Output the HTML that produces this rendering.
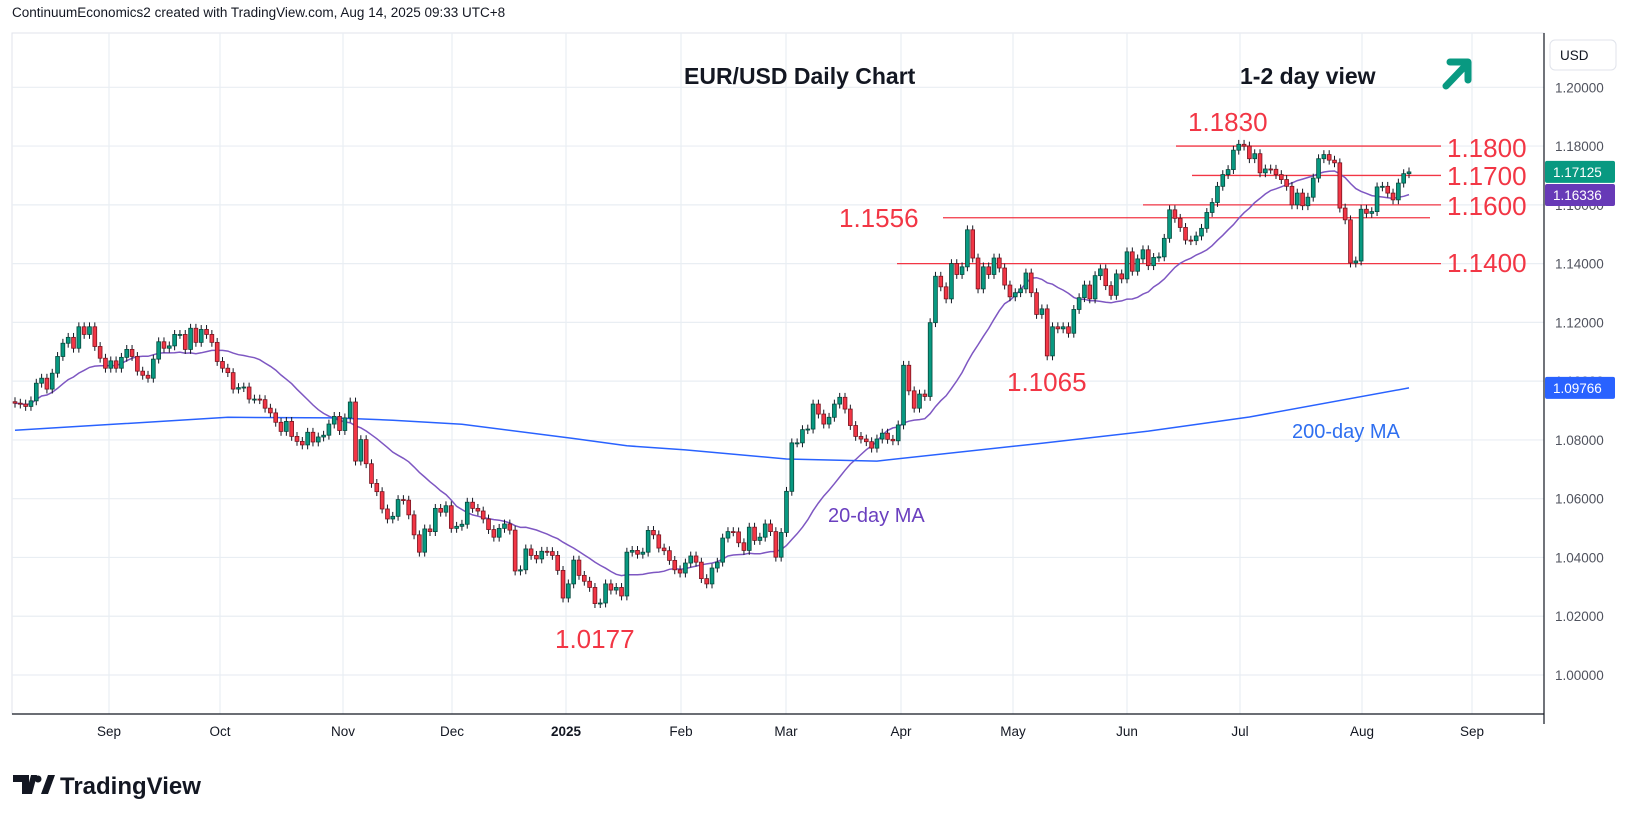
<!DOCTYPE html>
<html><head><meta charset="utf-8">
<style>
html,body{margin:0;padding:0;background:#fff;}
body{width:1634px;height:824px;overflow:hidden;position:relative;font-family:"Liberation Sans",sans-serif;}
svg{position:absolute;left:0;top:0;}
</style></head>
<body>
<svg id="chart" width="1634" height="824" xmlns="http://www.w3.org/2000/svg">
<text x="12" y="17" font-size="13.5" fill="#131722" font-family="Liberation Sans, sans-serif">ContinuumEconomics2 created with TradingView.com, Aug 14, 2025 09:33 UTC+8</text>
<g id="grid"></g>
<g id="levels"></g>
<g id="mas"></g>
<g id="candles"></g>
<g id="axis"></g>
<g id="xaxis"></g>
<text x="684" y="84" font-size="23" fill="#131722" font-weight="bold" font-family="Liberation Sans, sans-serif">EUR/USD Daily Chart</text>
<text x="1240" y="84" font-size="23" fill="#131722" font-weight="bold" font-family="Liberation Sans, sans-serif">1-2 day view</text>
<g stroke="#089981" stroke-width="7" fill="none" stroke-linecap="round" stroke-linejoin="round">
<line x1="1446" y1="86" x2="1467" y2="64"/><polyline points="1450,62 1468,62 1468,80"/></g>
<g font-family="Liberation Sans, sans-serif" font-size="26" fill="#f23645">
<text x="1188" y="131">1.1830</text>
<text x="1447" y="157">1.1800</text>
<text x="1447" y="185">1.1700</text>
<text x="1447" y="215">1.1600</text>
<text x="1447" y="272">1.1400</text>
<text x="839" y="227">1.1556</text>
<text x="1007" y="391">1.1065</text>
<text x="555" y="648">1.0177</text>
</g>
<text x="828" y="522" font-size="20" fill="#6a3fbf" font-family="Liberation Sans, sans-serif">20-day MA</text>
<text x="1292" y="438" font-size="20" fill="#2f6ff0" font-family="Liberation Sans, sans-serif">200-day MA</text>
<g>
<path d="M13 775h16v19h-7v-12h-9z M31 775h6l-5 19h-6z" fill="#131722"/>
<circle cx="38" cy="779" r="3.5" fill="#131722"/>
<path d="M41 794l7-19h7l-7 19z" fill="#131722"/>
<text x="60" y="794" font-size="24" font-weight="bold" fill="#131722" font-family="Liberation Sans, sans-serif">TradingView</text>
</g>
</svg>
<script>
const closes=[1.0925,1.0922,1.0914,1.0933,1.0993,1.1010,1.0973,1.1027,1.1084,1.1129,1.1149,1.1112,1.1185,1.1159,1.1185,1.1118,1.1078,1.1044,1.1069,1.1044,1.1081,1.1108,1.1084,1.1034,1.1020,1.1010,1.1075,1.1134,1.1112,1.1120,1.1159,1.1159,1.1108,1.1180,1.1132,1.1176,1.1159,1.1132,1.1067,1.1044,1.1029,1.0973,1.0978,1.0980,1.0939,1.0939,1.0937,1.0908,1.0892,1.0860,1.0829,1.0863,1.0812,1.0795,1.0783,1.0826,1.0793,1.0810,1.0816,1.0854,1.0880,1.0832,1.0875,1.0929,1.0728,1.0801,1.0719,1.0652,1.0624,
1.0565,1.0531,1.0540,1.0597,1.0595,1.0545,1.0477,1.0418,1.0497,1.0488,1.0567,1.0554,1.0576,1.0499,1.0506,1.0513,1.0588,1.0567,1.0558,1.0531,1.0495,1.0469,1.0499,1.0514,1.0493,1.0354,1.0358,1.0429,1.0407,1.0395,1.0421,1.0420,1.0407,1.0356,1.0262,1.0310,1.0391,1.0339,1.0319,1.0298,1.0243,1.0245,1.0310,1.0289,1.0298,1.0269,1.0418,1.0424,1.0411,1.0418,1.0492,1.0477,1.0432,1.0423,1.0390,1.0358,1.0347,1.0381,1.0405,1.0384,1.0328,1.0310,1.0364,1.0384,1.0466,1.0488,1.0487,1.0450,1.0424,1.0503,1.0458,1.0469,1.0514,1.0488,1.0401,
1.0485,1.0625,
1.0790,1.0790,1.0835,1.0837,1.0922,1.0888,1.0854,1.0877,1.0922,1.0945,1.0905,1.0849,1.0812,1.0803,1.0794,1.0772,1.0803,1.0823,1.0802,1.0797,1.0851,1.1054,1.0967,1.0908,1.0956,1.0948,1.1199,1.1357,1.1321,1.1280,1.1400,1.1363,1.1389,1.1515,1.1419,1.1314,1.1389,1.1363,1.1419,1.1385,1.1327,1.1287,1.1301,1.1314,1.1368,1.1301,1.1227,1.1246,1.1086,1.1185,1.1178,1.1185,1.1163,1.1244,1.1284,1.1327,1.1280,1.1359,1.1382,1.1325,1.1292,1.1365,1.1348,1.1440,1.1374,1.1416,1.1447,1.1393,
1.1421,1.1423,1.1486,1.1583,1.1554,1.1523,1.1480,1.1478,1.1494,1.1520,1.1574,1.1608,1.1663,1.1703,1.1720,1.1786,1.1806,1.1800,1.1757,1.1774,1.1709,1.1722,1.1721,1.1703,1.1686,1.1663,1.1600,1.1640,1.1597,1.1626,1.1691,1.1757,1.1771,1.1752,1.1743,1.1589,1.1549,1.1402,1.1409,1.1585,1.1571,1.1577,1.1661,1.1663,1.1640,1.1617,1.1674,1.1706,1.1712];
const firstOpen=1.0930;
const ma200Bars=[0,20,40,60,71,84,105,115,126,145,162,193,213,232,262];
const ma200Vals=[1.0833,1.0855,1.0877,1.0875,1.0867,1.0853,1.0805,1.0780,1.0766,1.0735,1.0728,1.0789,1.0830,1.0878,1.0977];
const priceTicks=[1.20,1.18,1.16,1.14,1.12,1.10,1.08,1.06,1.04,1.02,1.00];
const tickLabels=["1.20000","1.18000","1.16000","1.14000","1.12000","1.10000","1.08000","1.06000","1.04000","1.02000","1.00000"];
const monthLabels=["Sep","Oct","Nov","Dec","2025","Feb","Mar","Apr","May","Jun","Jul","Aug","Sep"];
const monthX=[109,220,343,452,566,681,786,901,1013,1127,1240,1362,1472];
const levelPrices=[1.18,1.17,1.16,1.1556,1.14];
const levelStart=[1176,1192,1143,943,897];

const NS="http://www.w3.org/2000/svg";
const PL=12,PR=1544,PT=33,PB=714;
function y(p){return 87.3+(1.20-p)*2938.5;}
const N=closes.length;
const step=(1409-15)/(N-1);
function x(i){return 15+i*step;}
function mk(tag,attrs,parent){const e=document.createElementNS(NS,tag);for(const k in attrs)e.setAttribute(k,attrs[k]);parent.appendChild(e);return e;}

const grid=document.getElementById('grid');
mk('rect',{x:PL,y:PT,width:PR-PL,height:PB-PT,fill:'none',stroke:'#e0e3eb','stroke-width':1},grid);
priceTicks.forEach((p,k)=>{const l=mk('line',{x1:PL,x2:PR,y1:y(p),y2:y(p),stroke:'#e9eef3','stroke-width':1.2},grid);

});
monthX.forEach(mx=>{const l=mk('line',{x1:mx,x2:mx,y1:PT,y2:PB,stroke:'#e9eef3','stroke-width':1.2},grid);

});

const lv=document.getElementById('levels');
levelPrices.forEach((p,k)=>{const l=mk('line',{x1:levelStart[k],x2:k==3?1430:1441,y1:y(p),y2:y(p),stroke:'#f23645','stroke-width':1.3},lv);

});

// candles
const cg=document.getElementById('candles');
const opens=closes.map((c,i)=>i==0?firstOpen:closes[i-1]);
const wick=0.0015;
for(let i=0;i<N;i++){
 const o=opens[i],c=closes[i],up=c>=o;
 const col=up?'#089981':'#f23645';
 const hi=Math.max(o,c)+wick,lo=Math.min(o,c)-wick;
 const w=mk('line',{x1:x(i),x2:x(i),y1:y(hi),y2:y(lo),stroke:'#131722','stroke-width':1},cg);
 
 
 const top=y(Math.max(o,c)),h=Math.max(1,Math.abs(y(o)-y(c)));
 const b=mk('rect',{x:x(i)-1.9,y:top,width:3.8,height:h,fill:col,stroke:up?'#05493c':'#7a1420','stroke-width':0.8},cg);
 
 
}

// MAs
const mg=document.getElementById('mas');
let pts=[];
for(let i=0;i<N;i++){const s=Math.max(0,i-19);let sum=0;for(let j=s;j<=i;j++)sum+=closes[j];pts.push(x(i).toFixed(1)+','+y(sum/(i-s+1)).toFixed(1));}
const m20=mk('polyline',{points:pts.join(' '),fill:'none',stroke:'#7e57c2','stroke-width':1.5},mg);


const p2=ma200Bars.map((b,k)=>x(b).toFixed(1)+','+y(ma200Vals[k]).toFixed(1));
const m200=mk('polyline',{points:p2.join(' '),fill:'none',stroke:'#2962ff','stroke-width':1.5},mg);



// price axis
const ax=document.getElementById('axis');
mk('line',{x1:PR,x2:PR,y1:PT,y2:PB+10,stroke:'#131722','stroke-width':1.2},ax);
mk('line',{x1:PL,x2:PR,y1:PB,y2:PB,stroke:'#131722','stroke-width':1.2},ax);
const usd=mk('rect',{x:1550,y:40,width:66,height:30,rx:5,fill:'#fff',stroke:'#e0e3eb'},ax);


const ut=mk('text',{x:1560,y:60,'font-size':13.5,fill:'#131722'},ax);ut.textContent='USD';
priceTicks.forEach((p,k)=>{const t=mk('text',{x:1555,y:y(p)+5,'font-size':13.5,fill:'#50535e'},ax);t.textContent=tickLabels[k];

});
function tag(p,col,label,name){const g=mk('g',{},ax);


mk('rect',{x:1545,y:y(p)-11,width:70,height:22,rx:2,fill:col},g);
const t=mk('text',{x:1553,y:y(p)+5,'font-size':13.5,fill:'#fff'},g);t.textContent=label;}
const lastClose=closes[N-1];
tag(lastClose,'#089981','1.17125','last-price-tag');
tag(1.16336,'#673ab7','1.16336','ma20-price-tag');
tag(ma200Vals[ma200Vals.length-1],'#2962ff','1.09766','ma200-price-tag');

// time axis
const xa=document.getElementById('xaxis');
monthLabels.forEach((m,k)=>{const t=mk('text',{x:monthX[k],y:736,'font-size':13.5,fill:'#131722','text-anchor':'middle','font-weight':m==='2025'?'bold':'normal'},xa);t.textContent=m;

});
</script>
</body></html>
